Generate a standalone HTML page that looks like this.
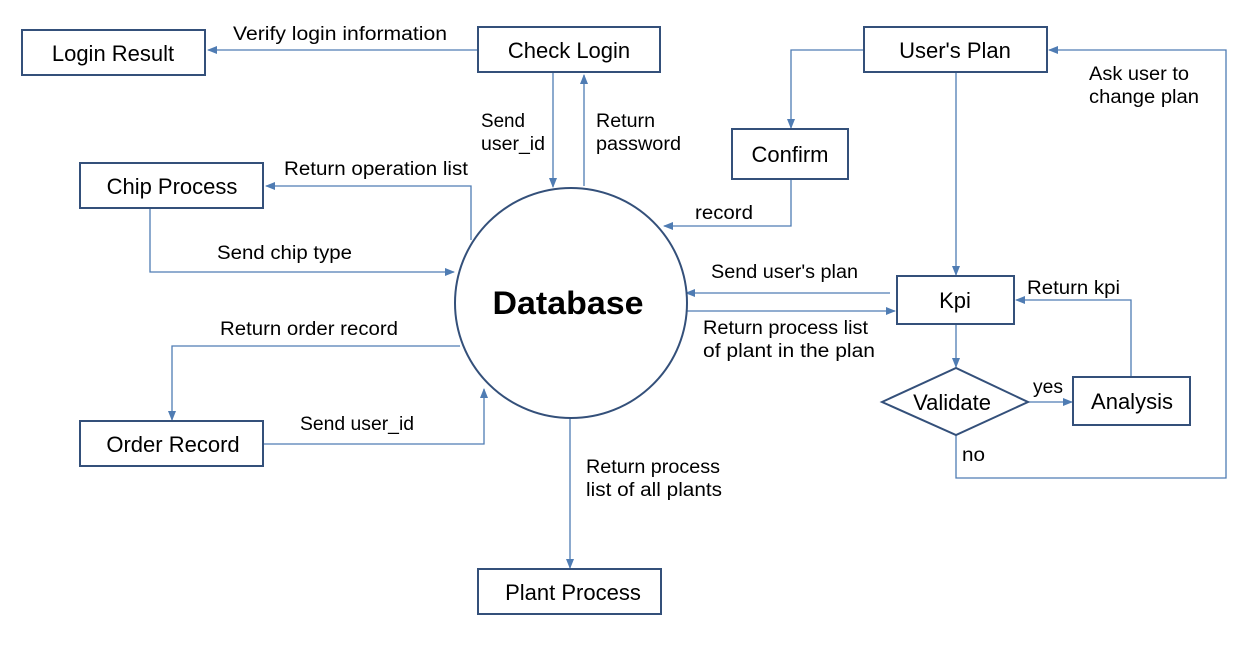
<!DOCTYPE html>
<html><head><meta charset="utf-8"><style>
html,body{margin:0;padding:0;background:#fff;}
svg{display:block;}
text{font-family:"Liberation Sans",sans-serif;fill:#000;}
.b{fill:#fff;stroke:#34507a;stroke-width:2;}
.l{fill:none;stroke:#4f7cb3;stroke-width:1.3;}
.t{font-size:19px;}
.n{font-size:22px;text-anchor:middle;}
</style></head><body>
<svg width="1257" height="653" viewBox="0 0 1257 653" xmlns="http://www.w3.org/2000/svg">
<defs><marker id="a" markerWidth="10" markerHeight="8" refX="9" refY="4" orient="auto" markerUnits="userSpaceOnUse"><path d="M0,0 L10,4 L0,8 Z" fill="#4f7cb3"/></marker></defs>

<path class="l" d="M478,50 H208" marker-end="url(#a)"/>
<path class="l" d="M553,72 V187" marker-end="url(#a)"/>
<path class="l" d="M584,186 V75" marker-end="url(#a)"/>
<path class="l" d="M471,240 V186 H266" marker-end="url(#a)"/>
<path class="l" d="M150,208 V272 H454" marker-end="url(#a)"/>
<path class="l" d="M460,346 H172 V420" marker-end="url(#a)"/>
<path class="l" d="M263,444 H484 V389" marker-end="url(#a)"/>
<path class="l" d="M570,418 V568" marker-end="url(#a)"/>
<path class="l" d="M864,50 H791 V128" marker-end="url(#a)"/>
<path class="l" d="M791,179 V226 H664" marker-end="url(#a)"/>
<path class="l" d="M956,72 V275" marker-end="url(#a)"/>
<path class="l" d="M890,293 H686" marker-end="url(#a)"/>
<path class="l" d="M686,311 H895" marker-end="url(#a)"/>
<path class="l" d="M956,324 V367" marker-end="url(#a)"/>
<path class="l" d="M1028,402 H1072" marker-end="url(#a)"/>
<path class="l" d="M1131,377 V300 H1016" marker-end="url(#a)"/>
<path class="l" d="M956,435 V478 H1226 V50 H1049" marker-end="url(#a)"/>

<rect class="b" x="22" y="30" width="183" height="45"/><text class="n" x="113" y="61">Login Result</text>
<rect class="b" x="478" y="27" width="182" height="45"/><text class="n" x="569" y="58">Check Login</text>
<rect class="b" x="864" y="27" width="183" height="45"/><text class="n" x="955" y="58">User's Plan</text>
<rect class="b" x="732" y="129" width="116" height="50"/><text class="n" x="790" y="162">Confirm</text>
<rect class="b" x="80" y="163" width="183" height="45"/><text class="n" x="172" y="194">Chip Process</text>
<rect class="b" x="897" y="276" width="117" height="48"/><text class="n" x="955" y="308">Kpi</text>
<polygon class="b" points="882,402 956,368 1028,402 956,435"/><text class="n" x="952" y="410">Validate</text>
<rect class="b" x="1073" y="377" width="117" height="48"/><text class="n" x="1132" y="409">Analysis</text>
<rect class="b" x="80" y="421" width="183" height="45"/><text class="n" x="173" y="452">Order Record</text>
<rect class="b" x="478" y="569" width="183" height="45"/><text class="n" x="573" y="600">Plant Process</text>
<ellipse class="b" cx="571" cy="303" rx="116" ry="115"/>
<text x="568" y="314" textLength="151" lengthAdjust="spacingAndGlyphs" style="font-size:32px;font-weight:bold;text-anchor:middle">Database</text>

<g lengthAdjust="spacingAndGlyphs">
<text class="t" x="233" y="40" textLength="214" lengthAdjust="spacingAndGlyphs">Verify login information</text>
<text class="t" x="481" y="127" textLength="44" lengthAdjust="spacingAndGlyphs">Send</text>
<text class="t" x="481" y="150" textLength="64" lengthAdjust="spacingAndGlyphs">user_id</text>
<text class="t" x="596" y="127" textLength="59" lengthAdjust="spacingAndGlyphs">Return</text>
<text class="t" x="596" y="150" textLength="85" lengthAdjust="spacingAndGlyphs">password</text>
<text class="t" x="284" y="175" textLength="184" lengthAdjust="spacingAndGlyphs">Return operation list</text>
<text class="t" x="217" y="259" textLength="135" lengthAdjust="spacingAndGlyphs">Send chip type</text>
<text class="t" x="220" y="335" textLength="178" lengthAdjust="spacingAndGlyphs">Return order record</text>
<text class="t" x="300" y="430" textLength="114" lengthAdjust="spacingAndGlyphs">Send user_id</text>
<text class="t" x="586" y="473" textLength="134" lengthAdjust="spacingAndGlyphs">Return process</text>
<text class="t" x="586" y="496" textLength="136" lengthAdjust="spacingAndGlyphs">list of all plants</text>
<text class="t" x="1089" y="80" textLength="100" lengthAdjust="spacingAndGlyphs">Ask user to</text>
<text class="t" x="1089" y="103" textLength="110" lengthAdjust="spacingAndGlyphs">change plan</text>
<text class="t" x="695" y="219" textLength="58" lengthAdjust="spacingAndGlyphs">record</text>
<text class="t" x="711" y="278" textLength="147" lengthAdjust="spacingAndGlyphs">Send user's plan</text>
<text class="t" x="703" y="334" textLength="165" lengthAdjust="spacingAndGlyphs">Return process list</text>
<text class="t" x="703" y="357" textLength="172" lengthAdjust="spacingAndGlyphs">of plant in the plan</text>
<text class="t" x="1027" y="294" textLength="93" lengthAdjust="spacingAndGlyphs">Return kpi</text>
<text class="t" x="1033" y="393" textLength="30" lengthAdjust="spacingAndGlyphs">yes</text>
<text class="t" x="962" y="461" textLength="23" lengthAdjust="spacingAndGlyphs">no</text>
</g>
</svg>
</body></html>
